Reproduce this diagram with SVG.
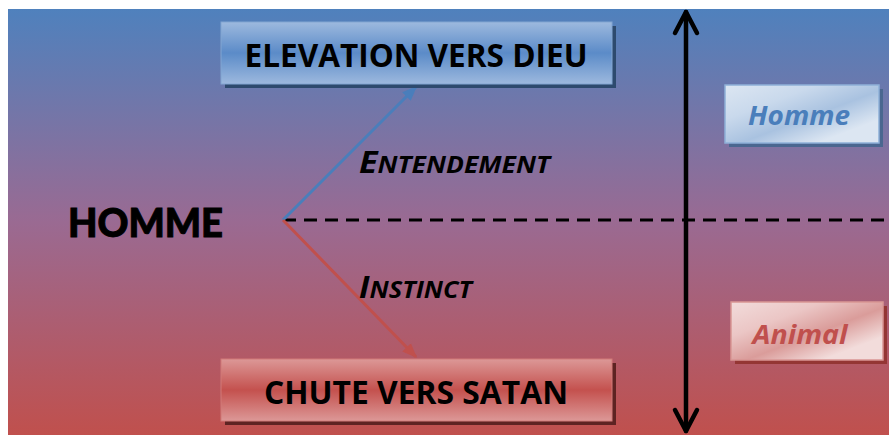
<svg xmlns="http://www.w3.org/2000/svg" width="889" height="435" viewBox="0 0 889 435">
<defs>
<linearGradient id="bg" x1="0" y1="0" x2="0" y2="1">
<stop offset="0" stop-color="#4F81BD"/>
<stop offset="0.5" stop-color="#9A6A92"/>
<stop offset="1" stop-color="#C0504D"/>
</linearGradient>
<linearGradient id="gBlue" x1="0" y1="0" x2="0" y2="1">
<stop offset="0" stop-color="#9DB9DE"/>
<stop offset="0.5" stop-color="#5B8BC8"/>
<stop offset="1" stop-color="#9DB9DE"/>
</linearGradient>
<linearGradient id="gRed" x1="0" y1="0" x2="0" y2="1">
<stop offset="0" stop-color="#DC9897"/>
<stop offset="0.5" stop-color="#C4514E"/>
<stop offset="1" stop-color="#DC9897"/>
</linearGradient>
<linearGradient id="gLBlue" x1="0" y1="0" x2="1" y2="1">
<stop offset="0" stop-color="#DCE6F2"/>
<stop offset="0.3" stop-color="#C9D9EC"/>
<stop offset="0.55" stop-color="#A9C2E0"/>
<stop offset="0.8" stop-color="#DCE6F2"/>
<stop offset="1" stop-color="#DCE6F2"/>
</linearGradient>
<linearGradient id="gLRed" x1="0" y1="0" x2="1" y2="1">
<stop offset="0" stop-color="#F2DCDB"/>
<stop offset="0.3" stop-color="#EBC6C5"/>
<stop offset="0.55" stop-color="#DA9C9A"/>
<stop offset="0.8" stop-color="#F2DCDB"/>
<stop offset="1" stop-color="#F2DCDB"/>
</linearGradient>
<marker id="ahBlue" viewBox="0 0 10 10" refX="9" refY="5" markerWidth="5" markerHeight="5" markerUnits="strokeWidth" orient="auto">
<path d="M0,1 L10,5 L0,9 Z" fill="#4A7EBB"/>
</marker>
<marker id="ahRed" viewBox="0 0 10 10" refX="9" refY="5" markerWidth="5" markerHeight="5" markerUnits="strokeWidth" orient="auto">
<path d="M0,1 L10,5 L0,9 Z" fill="#C0504D"/>
</marker>
<style>
.box{font-family:"Open Sans","Liberation Sans",sans-serif;font-weight:bold;fill:#000;text-anchor:middle}
.lab{font-family:"Open Sans","Liberation Sans",sans-serif;font-weight:bold;font-style:italic;fill:#000}
.side{font-family:"Open Sans","Liberation Sans",sans-serif;font-weight:bold;font-style:italic;text-anchor:middle}
</style>
</defs>
<rect x="8" y="9" width="881" height="426" fill="url(#bg)"/>
<g id="connectors">
<line x1="283" y1="220" x2="889" y2="220" stroke="#000" stroke-width="3" stroke-dasharray="13,8"/>
<line x1="283" y1="220" x2="416" y2="87" stroke="#4A7EBB" stroke-width="3" marker-end="url(#ahBlue)"/>
<line x1="283" y1="220" x2="416" y2="357" stroke="#C0504D" stroke-width="3" marker-end="url(#ahRed)"/>
<g stroke="#000" stroke-width="4.5" stroke-linecap="round" stroke-linejoin="round" fill="none">
<line x1="686" y1="12" x2="686" y2="431"/>
<polyline points="675,33 686,12 697,33"/>
<polyline points="675,410 686,431 697,410"/>
</g>
</g>
<g id="elevation">
<rect x="225" y="26" width="391" height="62" fill="#2D4A6E"/>
<rect x="221" y="22" width="391" height="62" fill="url(#gBlue)" stroke="#82A5D2" stroke-width="1"/>
<text class="box" x="416" y="67" font-size="33" textLength="343" lengthAdjust="spacingAndGlyphs">ELEVATION VERS DIEU</text>
</g>
<g id="chute">
<rect x="225" y="363" width="391" height="62" fill="#5E2322"/>
<rect x="221" y="359" width="391" height="62" fill="url(#gRed)" stroke="#D27A78" stroke-width="1"/>
<text class="box" x="416" y="404" font-size="33" textLength="304" lengthAdjust="spacingAndGlyphs">CHUTE VERS SATAN</text>
</g>
<g id="homme-left">
<text x="68" y="237" font-family="Lato,'DejaVu Sans',sans-serif" font-weight="900" font-size="40" textLength="155" lengthAdjust="spacingAndGlyphs" fill="#000" stroke="#000" stroke-width="1">HOMME</text>
</g>
<g id="homme-box">
<rect x="729" y="89" width="154" height="58" fill="#4A6790"/>
<rect x="725" y="85" width="154" height="58" fill="url(#gLBlue)" stroke="#8EB0D8" stroke-width="1.5"/>
<text class="side" x="799" y="125" font-size="27" fill="#4A7EBB" textLength="102" lengthAdjust="spacingAndGlyphs">Homme</text>
</g>
<g id="animal-box">
<rect x="735" y="306" width="152" height="58" fill="#943634"/>
<rect x="731" y="302" width="152" height="58" fill="url(#gLRed)" stroke="#D99694" stroke-width="1.5"/>
<text class="side" x="800" y="344" font-size="27" fill="#C0504D" textLength="95" lengthAdjust="spacingAndGlyphs">Animal</text>
</g>
<g id="labels">
<text class="lab" x="359" y="173" textLength="191" lengthAdjust="spacingAndGlyphs"><tspan font-size="31">E</tspan><tspan font-size="24">NTENDEMENT</tspan></text>
<text class="lab" x="359" y="298" textLength="113" lengthAdjust="spacingAndGlyphs"><tspan font-size="31">I</tspan><tspan font-size="24">NSTINCT</tspan></text>
</g>
</svg>
